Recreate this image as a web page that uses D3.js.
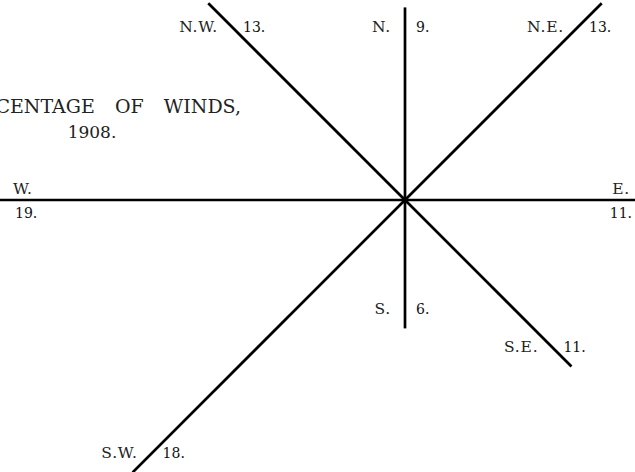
<!DOCTYPE html>
<html>
<head>
<meta charset="utf-8">
<script src="https://cdn.jsdelivr.net/npm/d3@7"></script>
<style>
  body { margin: 0; background: #fff; }
  svg { display: block; }
  .dir { font-family: "DejaVu Serif", serif; font-size: 15.5px; letter-spacing: 0.8px; fill: #222; }
  .val { font-family: "DejaVu Serif", serif; font-size: 14px; fill: #111; }
  .title { font-family: "DejaVu Serif", serif; font-size: 19px; fill: #222; }
</style>
</head>
<body>
<div id="rose"></div>
<script>
const width = 635;
const height = 472;

// wind directions, bearing in degrees, percentage of winds
const directions = ["N.", "N.E.", "E.", "S.E.", "S.", "S.W.", "W.", "N.W."];
const bearings = [0, 45, 90, 135, 180, 225, 270, 315];
const percentages = [9, 13, 11, 11, 6, 18, 19, 13];
const titleLines = ["PERCENTAGE OF WINDS,", "1908."];

const cx = 405, cy = 200;
const r = d3.scaleLinear().domain([0, 1]).range([0, 21.4]);

const svg = d3.select("#rose").append("svg")
    .attr("width", width)
    .attr("height", height);

const winds = directions.map((d, i) => {
  const a = bearings[i] * Math.PI / 180;
  const len = r(percentages[i]);
  return {
    name: d,
    value: percentages[i],
    angle: a,
    x2: cx + len * Math.sin(a),
    y2: cy - len * Math.cos(a)
  };
});

svg.append("g")
  .selectAll("line")
  .data(winds)
  .join("line")
    .attr("x1", cx)
    .attr("y1", cy)
    .attr("x2", d => d.x2)
    .attr("y2", d => d.y2)
    .attr("stroke", "#000")
    .attr("stroke-width", 2.7);

// x position of a wind line at a given height
function lineX(d, y) {
  const c = Math.cos(d.angle);
  if (Math.abs(c) < 1e-6) return d.x2;
  return cx + (cy - y) * Math.tan(d.angle);
}

const labels = svg.append("g");
const gapL = 14, gapR = 11;

winds.forEach(d => {
  const deg = Math.round(d.angle * 180 / Math.PI);
  let base, dirX, valX, dirY, valY, dirAnchor = "end", valAnchor = "start";
  if (deg === 90 || deg === 270) {
    // east / west: name above the line, value below, at the outer end
    const east = deg === 90;
    dirX = east ? 630 : 13;
    valX = east ? 632 : 15;
    dirY = cy - 6;
    valY = cy + 18;
    dirAnchor = valAnchor = east ? "end" : "start";
  } else {
    base = (deg <= 45 || deg >= 315) ? 32 : d.y2 - 14;
    const lx = lineX(d, base - 5);
    dirX = lx - gapL;
    valX = lx + gapR;
    dirY = valY = base;
  }
  labels.append("text")
    .attr("class", "dir")
    .attr("x", dirX)
    .attr("y", dirY)
    .attr("text-anchor", dirAnchor)
    .text(d.name);
  labels.append("text")
    .attr("class", "val")
    .attr("x", valX)
    .attr("y", valY)
    .attr("text-anchor", valAnchor)
    .text(d.value + ".");
});

svg.append("text")
  .attr("class", "title")
  .attr("x", 241)
  .attr("y", 113)
  .attr("text-anchor", "end")
  .attr("word-spacing", 14)
  .text(titleLines[0]);

svg.append("text")
  .attr("class", "title")
  .attr("x", 92)
  .attr("y", 138)
  .attr("text-anchor", "middle")
  .style("font-size", "17px")
  .text(titleLines[1]);
</script>
</body>
</html>
